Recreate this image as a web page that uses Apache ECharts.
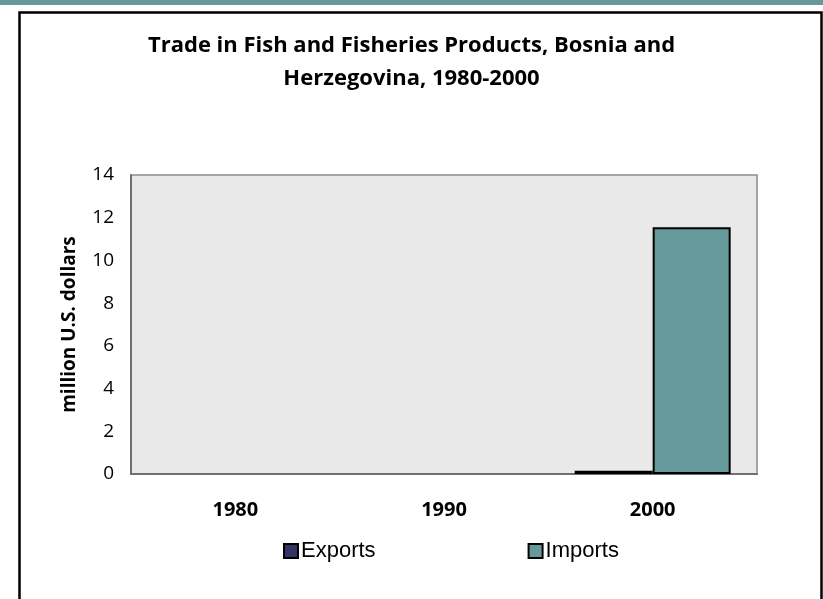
<!DOCTYPE html>
<html>
<head>
<meta charset="utf-8">
<script src="https://cdn.jsdelivr.net/npm/echarts@6/dist/echarts.min.js"></script>
<style>
html,body{margin:0;padding:0;background:#fff;}
#chart{width:823px;height:599px;}
</style>
</head>
<body>
<div id="chart"></div>
<script>
var years = ['1980', '1990', '2000'];
var exportsVals = [null, null, 0.15];
var importsVals = [null, null, 11.55];
var yTicks = { min: 0, max: 14, interval: 2 };
var titleText = 'Trade in Fish and Fisheries Products, Bosnia and\nHerzegovina, 1980-2000';
var yName = 'million U.S. dollars';

var chart = echarts.init(document.getElementById('chart'), null, { renderer: 'canvas' });
chart.setOption({
  animation: false,
  backgroundColor: '#ffffff',
  graphic: [
    { type: 'rect', left: 0, top: 0, shape: { width: 823, height: 5 }, style: { fill: '#669999' }, z: 0 },
    { type: 'rect', left: 17, top: 10, shape: { width: 802, height: 600 }, style: { fill: 'none', stroke: '#000', lineWidth: 2.5 }, z: 0 }
  ],
  title: {
    text: titleText,
    left: 'center',
    top: 24,
    textStyle: { fontFamily: 'Open Sans', fontWeight: 'bold', fontSize: 22, lineHeight: 33, color: '#000' }
  },
  legend: {
    data: ['Exports', 'Imports'],
    left: 278,
    top: 535,
    itemWidth: 14,
    itemHeight: 14,
    itemGap: 152,
    icon: 'rect',
    textStyle: { fontFamily: 'Liberation Sans', fontSize: 22, color: '#000', padding: [0, 0, 0, -2] }
  },
  grid: {
    left: 131, right: 66, top: 175, bottom: 125,
    show: true, backgroundColor: '#E9E9E9', borderColor: '#8C8C8C', borderWidth: 1.5
  },
  xAxis: {
    type: 'category',
    data: years,
    axisLine: { show: true, lineStyle: { color: '#707070', width: 2 } },
    axisTick: { show: false },
    axisLabel: { fontFamily: 'Open Sans', fontWeight: 'bold', fontSize: 20, color: '#000', margin: 26 }
  },
  yAxis: {
    type: 'value',
    min: yTicks.min, max: yTicks.max, interval: yTicks.interval,
    name: yName,
    nameLocation: 'middle',
    nameGap: 52,
    nameTextStyle: { fontFamily: 'Open Sans', fontWeight: 'bold', fontSize: 19, color: '#000' },
    axisLine: { show: true, lineStyle: { color: '#707070', width: 2 } },
    axisTick: { show: false },
    splitLine: { show: false },
    axisLabel: { fontFamily: 'Open Sans', fontSize: 19, color: '#000', margin: 17 }
  },
  series: [
    {
      name: 'Exports', type: 'bar', data: exportsVals,
      barWidth: 78, barGap: '0%',
      itemStyle: { color: '#333366', borderColor: '#000', borderWidth: 2 }
    },
    {
      name: 'Imports', type: 'bar', data: importsVals,
      barWidth: 78, barGap: '0%',
      itemStyle: { color: '#669999', borderColor: '#000', borderWidth: 2 }
    }
  ]
});
</script>
</body>
</html>
